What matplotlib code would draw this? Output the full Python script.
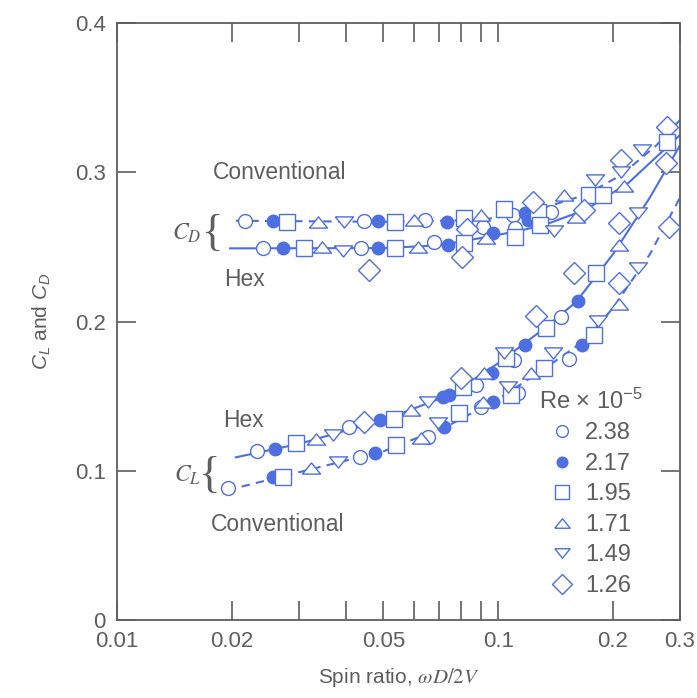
import numpy as np
import matplotlib
matplotlib.use("Agg")
import matplotlib.pyplot as plt
from matplotlib.lines import Line2D

plt.rcParams['font.family'] = ['Liberation Sans', 'DejaVu Sans']
plt.rcParams['mathtext.fontset'] = 'custom'
plt.rcParams['mathtext.rm'] = 'Liberation Sans'
plt.rcParams['mathtext.it'] = 'Liberation Sans:italic'

# ---- data (spin ratio, coefficient) ----
re_labels = ['2.38', '2.17', '1.95', '1.71', '1.49', '1.26']

# faired curves
cd_conv_x = [0.0205, 0.05, 0.09, 0.12, 0.17, 0.21, 0.26, 0.3]
cd_conv_y = [0.2675, 0.2668, 0.268, 0.273, 0.285, 0.298, 0.318, 0.335]
cd_hex_x = [0.0198, 0.05, 0.07, 0.1, 0.13, 0.17, 0.22, 0.3]
cd_hex_y = [0.249, 0.2492, 0.251, 0.258, 0.264, 0.275, 0.293, 0.325]
cl_hex_x = [0.0205, 0.03, 0.05, 0.075, 0.1, 0.13, 0.16, 0.2, 0.25, 0.3]
cl_hex_y = [0.109, 0.118, 0.134, 0.151, 0.172, 0.194, 0.213, 0.245, 0.283, 0.318]
cl_conv_x = [0.0195, 0.03, 0.05, 0.075, 0.1, 0.13, 0.17, 0.2, 0.25, 0.3]
cl_conv_y = [0.087, 0.099, 0.113, 0.131, 0.148, 0.167, 0.188, 0.209, 0.245, 0.283]

# measured points, one list per Re, in re_labels order
cd_conv_px = [[0.0217, 0.0444, 0.0642, 0.0911, 0.1094, 0.138],
              [0.0256, 0.0483, 0.0733, 0.1174, 0.120],
              [0.0280, 0.0535, 0.0813, 0.1036, 0.127, 0.173, 0.1889],
              [0.0336, 0.0600, 0.0900, 0.149, 0.214],
              [0.0393, 0.179, 0.238],
              [0.083, 0.1235, 0.21, 0.278]]
cd_conv_py = [[0.2675, 0.2672, 0.268, 0.2635, 0.2714, 0.2735],
              [0.2675, 0.2675, 0.2667, 0.2727, 0.268],
              [0.2665, 0.2667, 0.2693, 0.2754, 0.2735, 0.2848, 0.2848],
              [0.2668, 0.268, 0.2714, 0.2848, 0.291],
              [0.2668, 0.2948, 0.315],
              [0.262, 0.28, 0.308, 0.33]]
cd_hex_px = [[0.0242, 0.0436, 0.0679, 0.1108],
             [0.0272, 0.0483, 0.0738, 0.0969],
             [0.0309, 0.0535, 0.0813, 0.1108, 0.129, 0.277],
             [0.0346, 0.0616, 0.0929, 0.16],
             [0.0391, 0.1402, 0.21],
             [0.0458, 0.0803, 0.168, 0.275]]
cd_hex_py = [[0.2492, 0.2492, 0.2533, 0.2626],
             [0.2492, 0.2492, 0.2513, 0.2593],
             [0.2492, 0.2492, 0.2526, 0.2566, 0.2647, 0.32],
             [0.25, 0.25, 0.256, 0.27],
             [0.2475, 0.2606, 0.30],
             [0.2345, 0.2432, 0.2747, 0.306]]
cl_hex_px = [[0.0233, 0.0407, 0.0875, 0.110, 0.146],
             [0.0259, 0.0489, 0.0717, 0.0742, 0.0963, 0.1174, 0.162],
             [0.0294, 0.0532, 0.081, 0.1049, 0.1338, 0.181],
             [0.0332, 0.059, 0.0918, 0.207],
             [0.0368, 0.0654, 0.1036, 0.233],
             [0.0444, 0.0799, 0.126, 0.1585, 0.208]]
cl_hex_py = [[0.113, 0.1293, 0.1575, 0.174, 0.203],
             [0.1146, 0.134, 0.1494, 0.1508, 0.1655, 0.184, 0.214],
             [0.1186, 0.135, 0.156, 0.1755, 0.1957, 0.2325],
             [0.1213, 0.1407, 0.1655, 0.251],
             [0.124, 0.146, 0.179, 0.273],
             [0.1327, 0.162, 0.204, 0.2325, 0.266]]
cl_conv_px = [[0.0196, 0.0433, 0.0655, 0.090, 0.113, 0.1535],
              [0.0256, 0.0474, 0.0720, 0.0968, 0.1655],
              [0.0273, 0.0538, 0.079, 0.108, 0.132, 0.178],
              [0.0322, 0.0627, 0.0911, 0.1221, 0.208],
              [0.0381, 0.0695, 0.1062, 0.1395, 0.1825, 0.233],
              [0.208, 0.28]]
cl_conv_py = [[0.0884, 0.1092, 0.1226, 0.1427, 0.152, 0.175],
              [0.0958, 0.112, 0.1293, 0.146, 0.184],
              [0.0958, 0.117, 0.1387, 0.1508, 0.169, 0.191],
              [0.1018, 0.122, 0.146, 0.1655, 0.212],
              [0.106, 0.132, 0.156, 0.179, 0.2003, 0.236],
              [0.226, 0.263]]

xtick_vals = [0.01, 0.02, 0.03, 0.04, 0.05, 0.06, 0.07, 0.08, 0.09, 0.1, 0.2, 0.3]
xtick_text = ['0.01', '0.02', '', '', '0.05', '', '', '', '', '0.1', '0.2', '0.3']
ytick_vals = [0, 0.1, 0.2, 0.3, 0.4]
ytick_text = ['0', '0.1', '0.2', '0.3', '0.4']

# ---- styling ----
blue = '#4e6fe0'
gray = '#5e5e5e'
tri_up = [(-1, -0.62), (1, -0.62), (0, 0.62), (-1, -0.62)]
tri_dn = [(-1, 0.62), (1, 0.62), (0, -0.62), (-1, 0.62)]
mk = [dict(marker='o', ms=10, mfc='white'),
      dict(marker='o', ms=9, mfc=blue),
      dict(marker='s', ms=12, mfc='white'),
      dict(marker=tri_up, ms=13, mfc='white'),
      dict(marker=tri_dn, ms=13, mfc='white'),
      dict(marker='D', ms=11.5, mfc='white')]

fig = plt.figure(figsize=(6.97, 6.98), dpi=100)
ax = fig.add_axes([117/697, 1-620/698, (680-117)/697, (620-23)/698])

ax.plot(cd_conv_x, cd_conv_y, color=blue, lw=1.5, dashes=(4, 3), zorder=2)
ax.plot(cd_hex_x, cd_hex_y, color=blue, lw=1.5, zorder=2)
ax.plot(cl_hex_x, cl_hex_y, color=blue, lw=1.5, zorder=2)
ax.plot(cl_conv_x, cl_conv_y, color=blue, lw=1.5, dashes=(4, 3), zorder=2)

for px, py in [(cd_conv_px, cd_conv_py), (cd_hex_px, cd_hex_py),
               (cl_hex_px, cl_hex_py), (cl_conv_px, cl_conv_py)]:
    for i in range(6):
        ax.plot(px[i], py[i], ls='none', mec=blue, mew=1.0, zorder=3, **mk[i])

ax.set_xscale('log')
ax.set_xlim(0.01, 0.3)
ax.set_ylim(0, 0.4)
ax.xaxis.set_minor_locator(matplotlib.ticker.NullLocator())
ax.set_xticks(xtick_vals, xtick_text)
ax.set_yticks(ytick_vals, ytick_text)
ax.tick_params(direction='in', length=14, width=1.2, color=gray,
               top=True, right=True, labelsize=16, labelcolor=gray)
ax.tick_params(axis='x', pad=8)
ax.tick_params(axis='y', pad=8)
for s in ax.spines.values():
    s.set_color(gray)
    s.set_linewidth(1.3)

ax.set_xlabel(r'Spin ratio, $\omega D/2V$', fontsize=15, color=gray, labelpad=10,
              math_fontfamily='stix')
ax.set_ylabel(r'$C_L$ and $C_D$', fontsize=15, color=gray, labelpad=16)

# annotations
ax.text(0.0179, 0.2995, 'Conventional', fontsize=16.5, color=gray, va='center')
ax.text(0.0191, 0.228, 'Hex', fontsize=16.5, color=gray, va='center')
ax.text(0.019, 0.134, 'Hex', fontsize=16.5, color=gray, va='center')
ax.text(0.0176, 0.064, 'Conventional', fontsize=16.5, color=gray, va='center')
ax.text(0.0166, 0.259, r'$C_D$', fontsize=17, color=gray, ha='right', va='center',
        math_fontfamily='stix')
ax.text(0.0166, 0.097, r'$C_L$', fontsize=17, color=gray, ha='right', va='center',
        math_fontfamily='stix')
ax.text(0.0178, 0.2586, '{', fontsize=32, color=gray, ha='center', va='center',
        family='Liberation Serif')
ax.text(0.0175, 0.0965, '{', fontsize=32, color=gray, ha='center', va='center',
        family='Liberation Serif')

handles = [Line2D([], [], ls='none', mec=blue, mew=1.0,
                  **dict(mk[i], ms=mk[i]['ms'] * 0.85)) for i in range(6)]
leg = ax.legend(handles, re_labels, title=r'Re $\times$ 10$^{-5}$', loc='lower right',
                bbox_to_anchor=(0.95, 0.023), frameon=False, fontsize=17,
                title_fontsize=17, handlelength=1.0, handletextpad=0.5,
                labelspacing=0.36, borderaxespad=0)
for t in leg.get_texts():
    t.set_color(gray)
leg.get_title().set_color(gray)

fig.savefig('out.png', dpi=100)
